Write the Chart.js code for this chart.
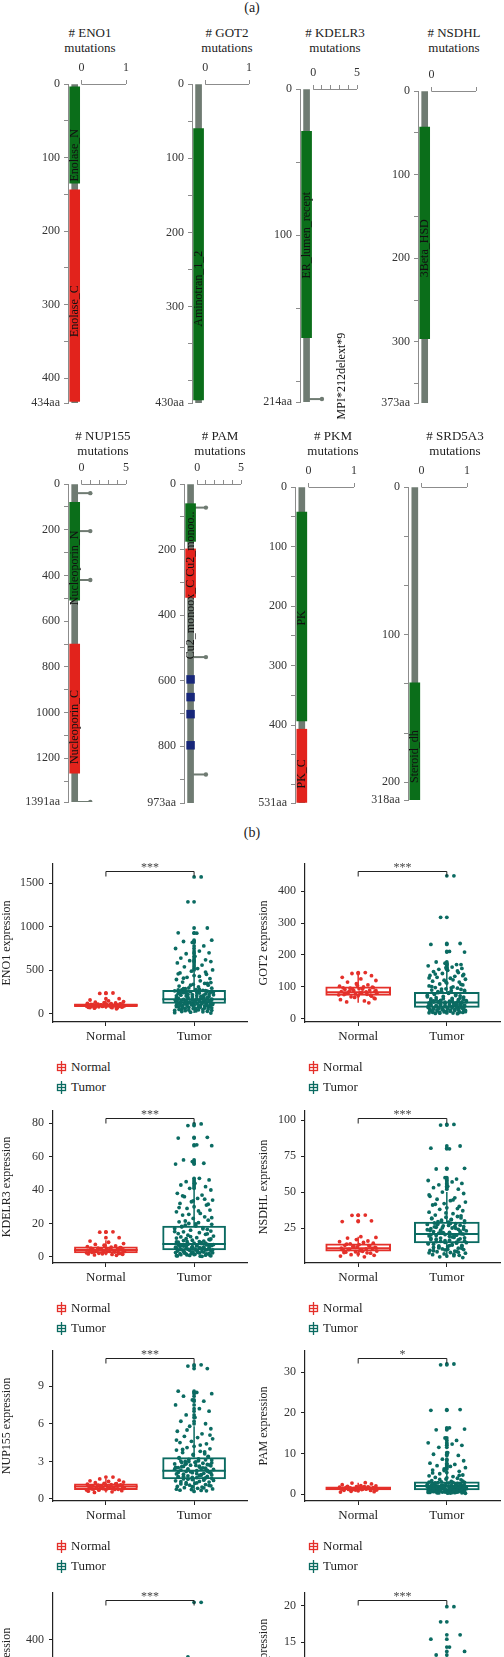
<!DOCTYPE html>
<html>
<head>
<meta charset="utf-8">
<title>Mutations and expression</title>
<script src="https://cdn.jsdelivr.net/npm/chart.js@4.4.1/dist/chart.umd.min.js"></script>
<style>
  body { margin: 0; }
  #page { position: relative; width: 504px; height: 1657px; overflow: hidden; background: #fff;
          font-family: "Liberation Serif", serif; color: #222; }
  #page canvas { position: absolute; }
  .txt { position: absolute; white-space: nowrap; line-height: 15px; font-size: 13px; transform: translateX(-50%); text-align: center; }
  .leg { position: absolute; font-size: 13px; line-height: 16px; white-space: nowrap; }
  .leg svg { position: absolute; left: -15px; top: 2px; }
</style>
</head>
<body>
<div id="page"></div>
<script>
// ---------- (a) protein plots ----------
const genesA = ['ENO1', 'GOT2', 'KDELR3', 'NSDHL', 'NUP155', 'PAM', 'PKM', 'SRD5A3'];
const protLen = [434, 430, 214, 373, 1391, 973, 531, 318];
const mutTickLabels = [['0', '1'], ['0', '1'], ['0', '', '', '', '', '5'], ['0', ''],
                       ['0', '', '', '', '', '5'], ['0', '', '', '', '', '5'], ['0', '1'], ['0', '1']];

const domStart = [[4, 144], [60], [29], [43], [80, 700], [60, 198], [42, 407], [199]];
const domEnd = [[135, 432], [426], [170], [296], [508, 1265], [175, 346], [393, 530], [318]];
const domLabel = [['Enolase_N', 'Enolase_C'], ['Aminotran_1_2'], ['ER_lumen_recept'], ['3Beta_HSD'],
                  ['Nucleoporin_N', 'Nucleoporin_C'], ['Cu2_monoox_C Cu2_monoo..'], ['PK', 'PK_C'], ['Steroid_dh']];
const domLabelAt = [[97, 309], [276], [100], [188], [367, 1063], [309], [220, 482], [274]];

const mutPos = [[], [], [212], [], [40, 206, 420, 1391], [72, 528, 886], [], []];
const mutCount = [[], [], [1], [], [1, 1, 1, 1], [1, 1, 1], [], []];
const mutNote = ['', '', 'MPI*212delext*9', '', '', '', '', ''];
const featPos = [[], [], [], [], [], [596, 650, 702, 797], [], []];

const yTickVals = [
  [0, 50, 100, 150, 200, 250, 300, 350, 400, 434],
  [0, 50, 100, 150, 200, 250, 300, 350, 400, 430],
  [0, 50, 100, 150, 200, 214],
  [0, 50, 100, 150, 200, 250, 300, 350, 373],
  [0, 100, 200, 300, 400, 500, 600, 700, 800, 900, 1000, 1100, 1200, 1300, 1391],
  [0, 100, 200, 300, 400, 500, 600, 700, 800, 900, 973],
  [0, 50, 100, 150, 200, 250, 300, 350, 400, 450, 500, 531],
  [0, 50, 100, 150, 200, 250, 300, 318]
];
const yTickText = [
  ['0', '', '100', '', '200', '', '300', '', '400', '434aa'],
  ['0', '', '100', '', '200', '', '300', '', '', '430aa'],
  ['0', '', '100', '', '', '214aa'],
  ['0', '', '100', '', '200', '', '300', '', '373aa'],
  ['0', '', '200', '', '400', '', '600', '', '800', '', '1000', '', '1200', '', '1391aa'],
  ['0', '', '200', '', '400', '', '600', '', '800', '', '973aa'],
  ['0', '', '100', '', '200', '', '300', '', '400', '', '', '531aa'],
  ['0', '', '', '100', '', '', '200', '318aa']
];

// ---------- (b) expression plots ----------
const groups = ['Normal', 'Tumor'];
const genesB = ['ENO1', 'GOT2', 'KDELR3', 'NSDHL', 'NUP155', 'PAM', 'PKM', 'SRD5A3'];

const eno1N = [240, 235, 175, 160, 150, 142, 135, 130, 126, 122, 118, 115, 112, 110, 108, 105, 103, 101, 100, 99, 97, 95, 93, 91,
  89, 87, 85, 82, 79, 76, 72, 66, 60, 118, 114, 111, 107, 104, 102, 98, 96, 94, 92, 90, 88, 86, 84, 80, 78, 74, 70];
const eno1T = [1570, 1285, 985, 930, 925, 845, 830, 820, 780, 750, 720, 700, 690, 660, 640, 620, 610, 600, 585, 560, 540, 520, 505,
  490, 470, 455, 440, 420, 405, 395, 380, 365, 350, 340, 330, 320, 310, 300, 295, 290, 280, 275, 270, 265, 260, 255, 250, 245,
  240, 235, 230, 225, 220, 215, 210, 205, 200, 195, 190, 185, 180, 178, 175, 172, 170, 168, 165, 162, 160, 158, 155, 152, 150,
  148, 145, 142, 140, 138, 135, 132, 130, 128, 125, 122, 120, 118, 115, 112, 110, 105, 100, 98, 95, 92, 90, 85, 82, 80, 75, 70,
  65, 60, 55, 50, 40, 30, 20, 10, 290, 282, 276, 268, 262, 256, 248, 242, 236, 228, 222, 216, 208, 202, 198, 192, 186, 182, 176,
  171, 166, 163, 158, 154, 149, 146, 143, 139, 136, 133, 129, 126, 123, 119, 116, 113, 109, 106, 103, 99, 96, 93, 88, 84, 78, 72,
  68, 62, 58, 52, 48, 45, 42, 38, 35, 28, 25, 15, 350, 330, 360, 410, 430, 460, 480];
const got2N = [145, 142, 135, 130, 125, 120, 115, 110, 106, 102, 100, 98, 96, 94, 92, 90, 88, 86, 85, 84, 83, 82, 80, 78, 76, 74,
  72, 69, 65, 60, 56, 53, 50, 105, 99, 97, 93, 91, 89, 87, 81, 79, 77, 75, 71, 67, 63];
const got2T = [448, 318, 236, 233, 211, 209, 178, 174, 170, 166, 162, 158, 155, 152, 148, 145, 142, 139, 136, 133, 130, 127, 124,
  121, 118, 115, 112, 109, 106, 103, 100, 98, 96, 94, 92, 90, 88, 86, 84, 82, 80, 78, 76, 74, 72, 70, 68, 66, 64, 62, 60, 58, 57,
  56, 55, 54, 53, 52, 51, 50, 49, 48, 47, 46, 45, 44, 43, 42, 41, 40, 39, 38, 37, 36, 35, 34, 33, 32, 31, 30, 29, 28, 27, 26, 25,
  24, 23, 22, 21, 20, 19, 18, 17, 16, 115, 108, 101, 97, 93, 89, 85, 81, 77, 73, 69, 65, 63, 61, 59, 57.5, 56.5, 55.5, 54.5, 53.5,
  52.5, 51.5, 50.5, 49.5, 48.5, 47.5, 46.5, 45.5, 44.5, 43.5, 42.5, 41.5, 40.5, 39.5, 38.5, 37.5, 36.5, 35.5, 34.5, 33.5, 32.5,
  31.5, 30.5, 29.5, 28.5, 27.5, 26.5, 25.5, 24.5, 23.5, 22.5, 21.5, 20.5, 19.5, 18.5, 17.5, 135, 128, 122, 140, 150, 160, 170];
const kdelr3N = [15, 14.8, 11.5, 9.5, 8.8, 8, 7.5, 7, 6.6, 6.2, 5.8, 5.5, 5.2, 5, 4.8, 4.6, 4.4, 4.2, 4, 3.8, 3.6, 3.4, 3.2, 3, 2.8,
  2.6, 2.4, 2.2, 2, 1.8, 1.5, 1.2, 1, 6.8, 5.6, 5.3, 4.9, 4.5, 4.1, 3.9, 3.5, 3.1, 2.9, 2.5, 2.1, 1.9, 1.6];
const kdelr3T = [79.5, 78.5, 71.5, 71, 67, 66.5, 58, 57, 56, 55.5, 47, 46, 45, 44, 43, 42, 41, 40, 38, 37, 36, 35, 34, 33, 32, 31,
  30, 29, 28, 27, 26, 25, 24, 23, 22, 21, 20.5, 20, 19.5, 19, 18.5, 18, 17.5, 17, 16.5, 16, 15.5, 15, 14.5, 14, 13.5, 13, 12.5,
  12, 11.5, 11, 10.5, 10, 9.5, 9, 8.5, 8, 7.8, 7.5, 7.2, 7, 6.8, 6.5, 6.2, 6, 5.8, 5.5, 5.2, 5, 4.8, 4.5, 4.2, 4, 3.8, 3.5, 3.2,
  3, 2.8, 2.5, 2.2, 2, 1.8, 1.5, 1.2, 1, 0.8, 0.5, 36.5, 34.5, 33.5, 31.5, 29.5, 27.5, 25.5, 23.5, 21.5, 19.8, 18.2, 16.8, 15.2,
  13.8, 12.2, 10.8, 9.8, 9.2, 8.8, 8.2, 7.6, 7.4, 6.9, 6.6, 6.4, 6.1, 5.9, 5.6, 5.4, 5.1, 4.9, 4.6, 4.4, 4.1, 3.9, 3.6, 3.4, 3.1,
  2.9, 2.6, 2.4, 2.1, 1.9, 1.6, 1.4, 1.1, 0.9, 0.7, 0.6, 0.4, 2.3, 3.3, 4.3, 5.3, 6.3, 7.3, 8.3, 9.3, 10.3, 11.3];
const nsdhlN = [34, 33.8, 30, 29.5, 19, 18.5, 18, 17, 16, 15.5, 15, 14.5, 14, 13.5, 13, 12.5, 12, 11.5, 11, 10.5, 10, 9.5, 9, 8.5,
  8, 7.5, 7, 6.5, 6, 5.5, 5, 13.8, 12.8, 11.8, 10.8, 9.8, 8.8, 12.2, 11.2, 10.2, 9.2, 8.2, 7.8];
const nsdhlT = [97, 96.5, 82, 80.5, 80, 66.5, 66, 60, 59, 58, 57, 56, 55, 54, 53, 52, 50, 49, 47, 46, 45, 44, 43, 42, 41, 40, 39,
  38, 37, 36, 35, 34, 33, 32.5, 32, 31.5, 31, 30.5, 30, 29.5, 29, 28.5, 28, 27.5, 27, 26.5, 26, 25.5, 25, 24.5, 24, 23.5, 23,
  22.5, 22, 21.5, 21, 20.5, 20, 19.5, 19, 18.5, 18, 17.5, 17, 16.5, 16, 15.5, 15, 14.5, 14, 13.5, 13, 12.5, 12, 11.5, 11, 10.5,
  10, 9.5, 9, 8.5, 8, 7.5, 7, 6.5, 6, 5.5, 5, 4.5, 48, 44.5, 41.5, 38.5, 35.5, 33.5, 31.8, 30.8, 29.8, 28.8, 27.8, 26.8, 25.8,
  24.8, 23.8, 22.8, 21.8, 20.8, 19.8, 18.8, 17.8, 16.8, 15.8, 14.8, 13.8, 12.8, 11.8, 10.8, 9.8, 8.8, 7.8, 6.8, 5.8, 22.2, 21.2,
  20.2, 19.2, 18.2, 17.2, 16.2, 15.2, 14.2, 13.2, 12.2, 11.2, 10.2, 9.2, 8.2, 25.2, 24.2, 23.2, 26.2, 27.2, 28.2];
const nup155N = [1.75, 1.6, 1.5, 1.45, 1.4, 1.35, 1.3, 1.25, 1.2, 1.18, 1.15, 1.12, 1.1, 1.07, 1.05, 1.02, 1.0, 0.98, 0.95, 0.92,
  0.9, 0.87, 0.85, 0.82, 0.8, 0.77, 0.74, 0.7, 0.66, 0.62, 0.57, 0.52, 1.22, 1.16, 1.09, 1.04, 0.99, 0.96, 0.91, 0.88, 0.84,
  0.79, 0.76, 0.72];
const nup155T = [10.7, 10.6, 10.4, 8.6, 8.5, 8.4, 8.2, 7.9, 7.8, 7.5, 7.2, 7.0, 6.7, 6.5, 6.2, 6.0, 5.8, 5.6, 5.4, 5.2, 5.0, 4.9,
  4.8, 4.6, 4.5, 4.4, 4.2, 4.1, 4.0, 3.9, 3.8, 3.7, 3.6, 3.5, 3.4, 3.3, 3.2, 3.15, 3.1, 3.0, 2.95, 2.9, 2.85, 2.8, 2.75, 2.7,
  2.65, 2.6, 2.55, 2.5, 2.45, 2.4, 2.35, 2.3, 2.25, 2.2, 2.15, 2.1, 2.05, 2.0, 1.95, 1.9, 1.85, 1.8, 1.75, 1.7, 1.65, 1.6, 1.55,
  1.5, 1.45, 1.4, 1.35, 1.3, 1.25, 1.2, 1.15, 1.1, 1.05, 1.0, 0.95, 0.9, 0.85, 0.8, 0.75, 0.7, 0.65, 0.6, 5.5, 5.1, 4.7, 4.3,
  3.95, 3.75, 3.55, 3.35, 3.25, 3.05, 2.98, 2.88, 2.78, 2.68, 2.58, 2.48, 2.38, 2.28, 2.18, 2.08, 1.98, 1.88, 1.78, 1.68, 1.58,
  1.48, 1.38, 1.28, 1.18, 1.08, 0.98, 0.88, 0.78, 0.68, 2.42, 2.32, 2.22, 2.12, 2.02, 1.92, 1.82, 1.72, 1.62, 2.52, 2.62, 2.72,
  2.82, 2.92, 3.02, 3.12];
const pamN = [2.8, 2.7, 2.5, 2.3, 2.1, 2.0, 1.9, 1.8, 1.75, 1.7, 1.65, 1.6, 1.55, 1.5, 1.45, 1.4, 1.35, 1.3, 1.25, 1.2, 1.15, 1.1,
  1.05, 1.0, 0.95, 0.9, 0.8, 0.7, 0.6, 0.5, 1.85, 1.72, 1.62, 1.52, 1.42, 1.33, 1.22, 1.12, 1.02];
const pamT = [32, 31.8, 20.8, 20.6, 16.3, 16, 15.8, 13.8, 13.2, 12.6, 12.3, 12, 11.5, 10.2, 9.8, 9.5, 8.6, 8.2, 7.6, 7.3, 7.0,
  6.8, 6.5, 6.2, 5.9, 5.6, 5.3, 5.0, 4.7, 4.5, 4.3, 4.1, 3.9, 3.7, 3.5, 3.3, 3.1, 3.0, 2.9, 2.8, 2.7, 2.6, 2.5, 2.4, 2.3, 2.2,
  2.1, 2.0, 1.95, 1.9, 1.85, 1.8, 1.75, 1.7, 1.65, 1.6, 1.55, 1.5, 1.45, 1.4, 1.35, 1.3, 1.25, 1.2, 1.15, 1.1, 1.05, 1.0, 0.95,
  0.9, 0.85, 0.8, 0.75, 0.7, 0.65, 0.6, 0.55, 0.5, 0.45, 0.4, 0.35, 0.3, 0.25, 0.2, 5.8, 5.2, 4.6, 4.0, 3.6, 3.2, 2.95, 2.85,
  2.75, 2.65, 2.55, 2.45, 2.35, 2.25, 2.15, 2.05, 1.98, 1.92, 1.88, 1.82, 1.78, 1.72, 1.68, 1.62, 1.58, 1.52, 1.48, 1.42, 1.38,
  1.32, 1.28, 1.22, 1.18, 1.12, 1.08, 1.02, 0.98, 0.92, 0.88, 0.82, 0.78, 0.72, 0.68, 0.62, 0.58, 0.52, 0.48, 0.42, 0.38, 0.32,
  0.28, 0.22];
const pkmN = [140, 132, 125, 118, 112, 108, 104, 100, 97, 94, 91, 88, 85, 82, 79, 76, 73, 70, 66, 62];
const pkmT = [552, 330, 305, 285, 265, 250, 240, 230, 220, 212, 205, 198, 192, 186, 180, 175, 170, 165, 160, 156, 152, 148, 144,
  140, 136, 132, 128, 124, 120, 116, 112, 108, 104, 100, 95, 90, 85, 80, 72, 64, 55, 45];
const srd5a3N = [8, 7.2, 6.6, 6, 5.6, 5.2, 4.9, 4.6, 4.3, 4, 3.8, 3.5, 3.2, 3, 2.8, 2.5, 2.2, 1.9, 1.5];
const srd5a3T = [19.9, 17.8, 16.0, 15.4, 14.3, 13.7, 13.2, 12.6, 12.0, 11.4, 10.8, 10.2, 9.7, 9.2, 8.8, 8.4, 8.0, 7.6, 7.3, 7.0,
  6.7, 6.4, 6.1, 5.8, 5.5, 5.2, 4.9, 4.6, 4.3, 4.0, 3.7, 3.4, 3.1, 2.8, 2.5, 2.2, 1.9];

const normalVals = [eno1N, got2N, kdelr3N, nsdhlN, nup155N, pamN, pkmN, srd5a3N];
const tumorVals = [eno1T, got2T, kdelr3T, nsdhlT, nup155T, pamT, pkmT, srd5a3T];

// [lower whisker, Q1, median, Q3, upper whisker]
const boxNormal = [[60, 85, 100, 115, 160], [50, 73, 83, 100, 140], [1, 2.4, 4.2, 6, 10], [5, 9, 11, 14, 19],
                   [0.52, 0.75, 1.0, 1.2, 1.6], [0.5, 1.0, 1.4, 1.8, 2.8], [62, 80, 95, 115, 140], [1.5, 2.8, 4, 5, 8]];
const boxTumor = [[10, 120, 170, 270, 490], [16, 36, 51, 83, 152], [0.4, 4.2, 7.8, 18.5, 40], [4.5, 14.6, 20.8, 29.2, 50],
                  [0.6, 1.6, 2.25, 3.3, 5.8], [0.2, 1.0, 2.0, 3.0, 6.0], [45, 110, 160, 220, 330], [1.9, 3.6, 5.5, 7.6, 13]];
const yRangeB = [[-92, 1718], [-10, 485], [-3.6, 87.2], [0.7, 106.3], [-0.16, 11.8], [-1.7, 35.2], [-20, 590], [1, 21.8]];
const yTicksB = [[0, 500, 1000, 1500], [0, 100, 200, 300, 400], [0, 20, 40, 60, 80], [25, 50, 75, 100],
                 [0, 3, 6, 9], [0, 10, 20, 30], [0, 200, 400], [5, 10, 15, 20]];
const stars = ['***', '***', '***', '***', '***', '*', '***', '***'];
const jitter = [0.08, -0.07, 0.15, -0.18, 0.03, 0.2, -0.12, -0.02, 0.11, -0.21, 0.06, 0.17, -0.09, 0.01, -0.15, 0.13, -0.05,
  0.19, -0.19, 0.09, -0.11, 0.04, 0.21, -0.03, -0.16, 0.14, 0.0, -0.08, 0.18, -0.2, 0.07, -0.13, 0.12, -0.01, 0.16, -0.17,
  0.05, -0.06, 0.2, -0.1, 0.02, -0.14, 0.1, -0.22, 0.15, -0.04, 0.19, -0.12, 0.06, -0.18, 0.13, -0.07, 0.22, -0.15, 0.03,
  -0.09, 0.17, -0.02, 0.11, -0.2, 0.08];

// ---------- look ----------
Chart.defaults.font.family = '"Liberation Serif", serif';
Chart.defaults.animation = false;
const page = document.getElementById('page');
const GRAY = '#6f7b72', AXIS = '#8c8c8c', NAVY = '#17277a';
const domColors = ['#0b6e1a', '#e2231c'];
const NCOL = '#e4302a', TCOL = '#0b6b62';

function addCanvas(left, top, w, h) {
  const c = document.createElement('canvas');
  c.width = w; c.height = h;
  c.style.left = left + 'px'; c.style.top = top + 'px';
  page.appendChild(c);
  return c;
}
function addText(html, x, y, size) {
  const d = document.createElement('div');
  d.className = 'txt';
  d.innerHTML = html;
  d.style.left = x + 'px'; d.style.top = y + 'px';
  if (size) d.style.fontSize = size + 'px';
  page.appendChild(d);
}
function rotText(ctx, t, x, y) {
  ctx.save(); ctx.translate(x, y); ctx.rotate(-Math.PI / 2);
  ctx.fillText(t, 0, 0); ctx.restore();
}

addText('(a)', 252, 0, 14);
addText('(b)', 252, 825, 14);

// layout of the protein panels
const aAxisX = [68, 192, 300, 418, 68, 184, 295, 408];
const aTop = [84, 84, 89, 91, 484, 484, 487, 487];
const aBottom = [403, 403, 402, 403, 802, 803, 803, 800];
const aRight = [126, 249, 357, 476, 126, 241, 354, 467];
const aTitleX = [90, 227, 335, 454, 103, 220, 333, 455];
const aTitleY = [25, 25, 25, 25, 428, 428, 428, 428];

function proteinChart(i) {
  const left = aAxisX[i] - 58, top = aTop[i] - 24;
  const W = aRight[i] - left + 16, H = aBottom[i] - top + 26;
  const max = mutTickLabels[i].length - 1;
  const bx = -0.15 * max;
  addText('# ' + genesA[i] + '<br>mutations', aTitleX[i], aTitleY[i]);

  const datasets = [
    { type: 'scatter', data: featPos[i].map(p => ({ x: bx, y: p })), pointStyle: 'rect', pointRadius: 6,
      backgroundColor: NAVY, borderWidth: 0, order: 1 },
    { type: 'bar', data: domStart[i].map((s, j) => ({ x: bx, y: [s, domEnd[i][j]] })),
      backgroundColor: domStart[i].map((s, j) => domColors[j]), barThickness: 10, grouped: false, order: 3 },
    ...mutPos[i].map((p, j) => ({
      type: 'line', data: [{ x: bx, y: p }, { x: mutCount[i][j], y: p }], borderColor: GRAY, borderWidth: 2,
      pointRadius: [0, 2.2], pointBackgroundColor: GRAY, pointBorderWidth: 0, order: 4
    })),
    { type: 'bar', data: [{ x: bx, y: [0, protLen[i]] }], backgroundColor: GRAY, barThickness: 6, grouped: false, order: 5 }
  ];

  new Chart(addCanvas(left, top, W, H), {
    type: 'scatter',
    data: { datasets },
    options: {
      responsive: false,
      events: [],
      layout: { padding: { left: 0, top: 0, right: 16, bottom: 26 } },
      plugins: { legend: { display: false }, tooltip: { enabled: false } },
      scales: {
        x: {
          type: 'linear', position: 'top', min: -0.3 * max, max: max, offset: false,
          afterBuildTicks: s => { s.ticks = mutTickLabels[i].map((t, v) => ({ value: v })); },
          ticks: { callback: (v, idx) => mutTickLabels[i][idx], autoSkip: false, maxRotation: 0, padding: 5,
                   color: '#333', font: { size: 12 } },
          grid: { drawOnChartArea: false, tickLength: 4, color: AXIS, offset: false },
          border: { display: false },
          afterFit: s => { s.height = 24; s.paddingLeft = 0; s.paddingRight = 0; }
        },
        y: {
          type: 'linear', reverse: true, min: 0, max: protLen[i],
          afterBuildTicks: s => { s.ticks = yTickVals[i].map(v => ({ value: v })); },
          ticks: { callback: (v, idx) => yTickText[i][idx], autoSkip: false, padding: 4, color: '#333', font: { size: 12 } },
          grid: { drawOnChartArea: false, tickLength: 4, color: AXIS },
          border: { color: AXIS, width: 1 },
          afterFit: s => { s.width = 58; s.paddingTop = 0; s.paddingBottom = 0; }
        }
      }
    },
    plugins: [{
      id: 'protAnno',
      afterDatasetsDraw(chart) {
        const { ctx, chartArea } = chart;
        const x = chart.scales.x, y = chart.scales.y;
        ctx.save();
        // bracket of the mutation-count axis
        ctx.strokeStyle = AXIS; ctx.lineWidth = 1;
        ctx.beginPath();
        ctx.moveTo(x.getPixelForValue(0), chartArea.top + 0.5);
        ctx.lineTo(x.getPixelForValue(max), chartArea.top + 0.5);
        ctx.stroke();
        // domain names
        ctx.font = '12px "Liberation Serif"'; ctx.fillStyle = '#111';
        ctx.textAlign = 'center'; ctx.textBaseline = 'middle';
        domLabel[i].forEach((t, j) => rotText(ctx, t, x.getPixelForValue(bx), y.getPixelForValue(domLabelAt[i][j])));
        // mutation annotation
        if (mutNote[i]) {
          rotText(ctx, mutNote[i], x.getPixelForValue(mutCount[i][0]) + 20, y.getPixelForValue(mutPos[i][0]) - 23);
        }
        ctx.restore();
      }
    }]
  });
}
genesA.forEach((g, i) => proteinChart(i));

// layout of the expression panels
const bTop = [864, 1111, 1351, 1593];
const bBottom = [1022, 1263, 1501, 1743];

function legendIcon(c) {
  return '<svg width="11" height="13" viewBox="0 0 11 13"><g stroke="' + c + '" stroke-width="1.3" fill="none">' +
    '<line x1="5.5" y1="0" x2="5.5" y2="13"/><rect x="1.5" y="3.5" width="8" height="6"/>' +
    '<line x1="1.5" y1="6.5" x2="9.5" y2="6.5"/></g></svg>';
}

function exprChart(k) {
  const col = k % 2, row = (k - col) / 2;
  const left = col ? 257 : 0, axisX = col ? 305 : 53, right = col ? 503 : 247;
  const top = bTop[row] - 22, H = bBottom[row] - top + 32;
  const W = (col ? 504 : 260) - left;
  const unit = (right - axisX) / 2.2;
  const nb = boxNormal[k], tb = boxTumor[k];

  const pts = (vals, gx) => vals.map((v, j) => ({ x: gx + jitter[j % jitter.length], y: v }));
  const outl = (vals, b, gx) => vals.filter(v => v < b[0] || v > b[4]).map(v => ({ x: gx, y: v }));
  const box = (b, gx, c) => ({ type: 'bar', data: [{ x: gx, y: [b[1], b[3]] }], backgroundColor: '#fff', borderColor: c,
    borderWidth: 2, borderSkipped: false, barThickness: Math.round(0.72 * unit), grouped: false, order: 6 });
  const med = (b, gx, c) => ({ type: 'line', data: [{ x: gx - 0.36, y: b[2] }, { x: gx + 0.36, y: b[2] }], borderColor: c,
    borderWidth: 2, pointRadius: 0, order: 5 });
  const whisk = (b, gx, c) => ({ type: 'line', data: [{ x: gx, y: b[3] }, { x: gx, y: b[4] }, { x: gx, y: null },
    { x: gx, y: b[1] }, { x: gx, y: b[0] }], borderColor: c, borderWidth: 1.5, pointRadius: 0, spanGaps: false, order: 7 });
  const dots = (data, c) => ({ type: 'scatter', data, backgroundColor: c, pointRadius: 1.9, borderWidth: 0, order: 1 });

  const datasets = [
    dots(pts(normalVals[k], 1), NCOL), dots(pts(tumorVals[k], 2), TCOL),
    dots(outl(normalVals[k], nb, 1), NCOL), dots(outl(tumorVals[k], tb, 2), TCOL),
    med(nb, 1, NCOL), med(tb, 2, TCOL), box(nb, 1, NCOL), box(tb, 2, TCOL), whisk(nb, 1, NCOL), whisk(tb, 2, TCOL)
  ];

  new Chart(addCanvas(left, top, W, H), {
    type: 'scatter',
    data: { datasets },
    options: {
      responsive: false,
      events: [],
      layout: { padding: { left: 0, top: 22, right: W - (right - left), bottom: 2 } },
      plugins: { legend: { display: false }, tooltip: { enabled: false } },
      scales: {
        x: {
          type: 'linear', min: 0.4, max: 2.6, offset: false,
          afterBuildTicks: s => { s.ticks = groups.map((g, j) => ({ value: j + 1 })); },
          ticks: { callback: (v, idx) => groups[idx], autoSkip: false, maxRotation: 0, padding: 3,
                   color: '#222', font: { size: 13 } },
          grid: { drawOnChartArea: false, tickLength: 4, color: '#222', offset: false },
          border: { color: '#222', width: 1.2 },
          afterFit: s => { s.height = 30; s.paddingLeft = 0; s.paddingRight = 0; }
        },
        y: {
          type: 'linear', min: yRangeB[k][0], max: yRangeB[k][1],
          afterBuildTicks: s => { s.ticks = yTicksB[k].map(v => ({ value: v })); },
          ticks: { callback: v => String(v), autoSkip: false, padding: 5, color: '#333', font: { size: 12 } },
          grid: { drawOnChartArea: false, tickLength: 4, color: '#222' },
          border: { color: '#222', width: 1.2 },
          title: { display: true, text: genesB[k] + ' expression', color: '#222', font: { size: 12 }, padding: 0 },
          afterFit: s => { s.width = axisX - left; s.paddingTop = 0; s.paddingBottom = 0; }
        }
      }
    },
    plugins: [{
      id: 'signif',
      afterDatasetsDraw(chart) {
        const { ctx, chartArea } = chart;
        const x = chart.scales.x;
        const x1 = x.getPixelForValue(1), x2 = x.getPixelForValue(2), yb = chartArea.top + 7.5;
        ctx.save();
        ctx.strokeStyle = '#222'; ctx.lineWidth = 1;
        ctx.beginPath();
        ctx.moveTo(x1, yb + 5); ctx.lineTo(x1, yb); ctx.lineTo(x2, yb); ctx.lineTo(x2, yb + 5);
        ctx.stroke();
        ctx.fillStyle = '#444'; ctx.font = '12px "Liberation Serif"';
        ctx.textAlign = 'center'; ctx.textBaseline = 'middle';
        ctx.fillText(stars[k], (x1 + x2) / 2, yb - 4);
        ctx.restore();
      }
    }]
  });

  // legend under each plot
  const lx = col ? 323 : 71;
  [NCOL, TCOL].forEach((c, j) => {
    const d = document.createElement('div');
    d.className = 'leg';
    d.innerHTML = legendIcon(c) + groups[j];
    d.style.left = lx + 'px';
    d.style.top = (bBottom[row] + 37 + j * 19.5) + 'px';
    page.appendChild(d);
  });
}
genesB.forEach((g, k) => exprChart(k));
</script>
</body>
</html>
